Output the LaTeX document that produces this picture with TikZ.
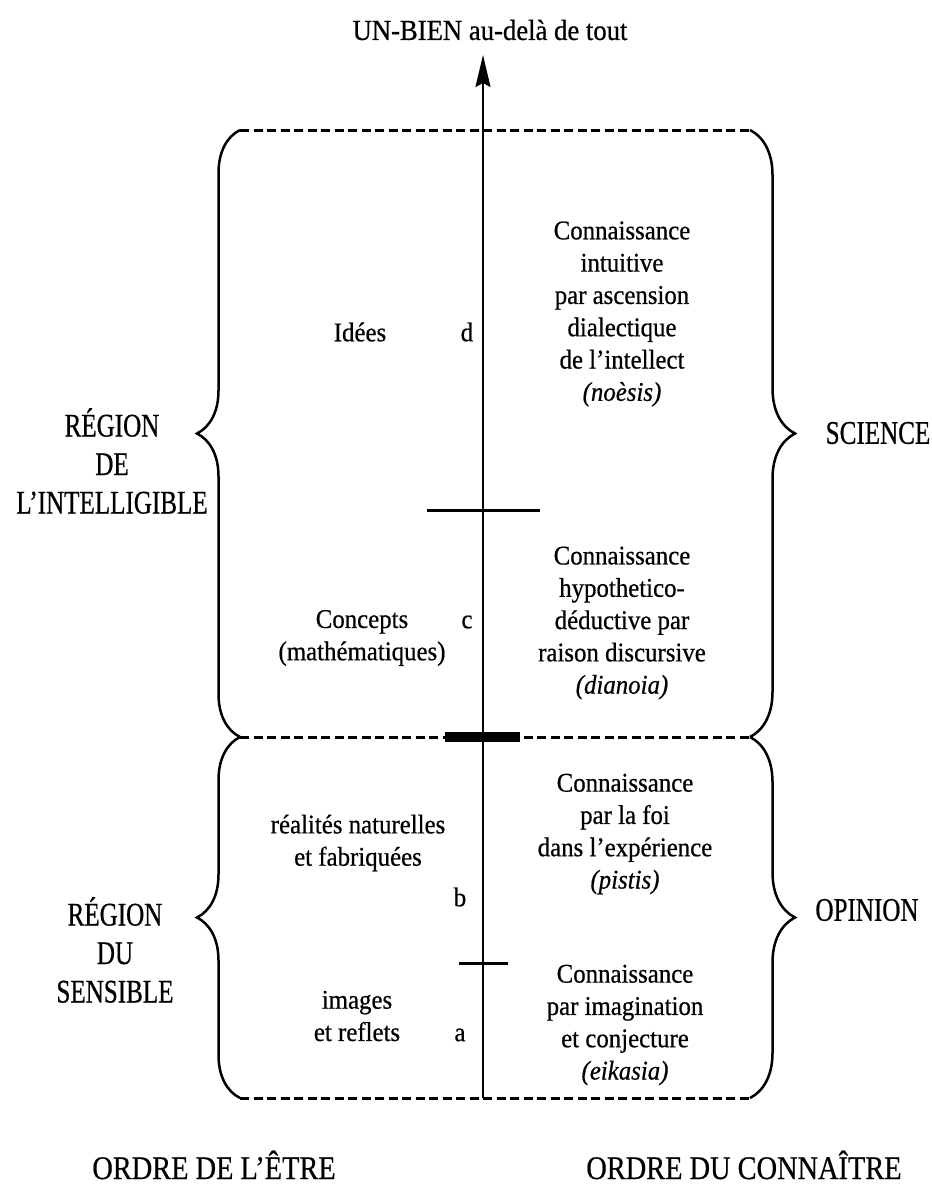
\documentclass[tikz,border=0pt]{standalone}
\usepackage{fontspec}
\setmainfont{Liberation Serif}
\newfontfamily\bodyserif[FakeStretch=0.92,FakeBold=0.6]{Liberation Serif}
\newfontfamily\capserif[FakeStretch=0.76,FakeBold=0.6]{Liberation Serif}
\newfontfamily\orderserif[FakeStretch=0.86,FakeBold=0.6]{Liberation Serif}
\usepackage{tikz}
\usetikzlibrary{arrows.meta,decorations.pathreplacing}
\tikzset{
  title/.style={font=\bodyserif\fontsize{29}{34}\selectfont, inner sep=0pt},
  body/.style={font=\bodyserif\fontsize{27}{32.3}\selectfont, align=center, inner sep=0pt},
  letter/.style={font=\bodyserif\fontsize{27}{32.3}\selectfont, inner sep=0pt},
  region/.style={font=\capserif\fontsize{33}{38.5}\selectfont, align=center, inner sep=0pt},
  order/.style={font=\orderserif\fontsize{33}{38.5}\selectfont, inner sep=0pt},
  axis/.style={line width=2pt, -{Stealth[length=32pt,width=15pt,inset=4pt]}},
  seam/.style={line width=3pt, dash pattern=on 9pt off 4.5pt},
  curly/.style={line width=2.5pt, decorate, decoration={brace,amplitude=#1}},
  curly/.default=44pt,
  notch/.style={line width=3pt},
  thick-notch/.style={line width=10pt}
}
\begin{document}
\begin{tikzpicture}[x=1pt,y=-1pt]
  \useasboundingbox (0,0) rectangle (932,1200);
  % axis up to the good
  \node[title] (bien) at (490,30) {UN-BIEN au-delà de tout};
  \coordinate (axisbot) at (483,1098);
  \coordinate (axistop) at (483,55);
  \draw[axis] (axisbot) -- (axistop);

  % dashed separations
  \coordinate (tl) at (240,130); \coordinate (tr) at (750,130);
  \coordinate (ml) at (240,737); \coordinate (mr) at (750,737);
  \coordinate (bl) at (240,1098); \coordinate (br) at (750,1098);
  \draw[seam] (tl) -- (tr);
  \draw[seam] (ml) -- (mr);
  \draw[seam] (bl) -- (br);

  % braces
  \draw[curly=43pt] (ml) -- (tl);
  \draw[curly=43pt] (bl) -- (ml);
  \draw[curly=45pt] (tr) -- (mr);
  \draw[curly=45pt] (mr) -- (br);

  % marks on the axis
  \draw[notch] (427,510) -- (540,510);
  \draw[thick-notch] (445,737) -- (520,737);
  \draw[notch] (459,963) -- (508,963);

  % order of being
  \node[body] (idees) at (360,332) {Idées};
  \node[letter] (d) at (467,332) {d};
  \node[body] (concepts) at (362,638) {Concepts\\(mathématiques)};
  \node[letter] (c) at (467,622) {c};
  \node[body] (realites) at (358,843) {réalités naturelles\\et fabriquées};
  \node[letter] (b) at (460,897) {b};
  \node[body] (images) at (357,1016) {images\\et reflets};
  \node[letter] (a) at (460,1035) {a};

  % order of knowing
  \node[body] (noesis) at (622,314) {Connaissance\\intuitive\\par ascension\\dialectique\\de l’intellect\\\textit{(noèsis)}};
  \node[body] (dianoia) at (622,623) {Connaissance\\hypothetico-\\déductive par\\raison discursive\\\textit{(dianoia)}};
  \node[body] (pistis) at (625,834) {Connaissance\\par la foi\\dans l’expérience\\\textit{(pistis)}};
  \node[body] (eikasia) at (625,1025) {Connaissance\\par imagination\\et conjecture\\\textit{(eikasia)}};

  % regions
  \node[region] (intelligible) at (112,461) {RÉGION\\DE\\L’INTELLIGIBLE};
  \node[region] (sensible) at (115,950) {RÉGION\\DU\\SENSIBLE};
  \node[region] (science) at (878,433) {SCIENCE};
  \node[region] (opinion) at (867,910) {OPINION};

  \node[order] (etre) at (214,1165) {ORDRE DE L’ÊTRE};
  \node[order] (connaitre) at (744,1165) {ORDRE DU CONNAÎTRE};
\end{tikzpicture}
\end{document}
